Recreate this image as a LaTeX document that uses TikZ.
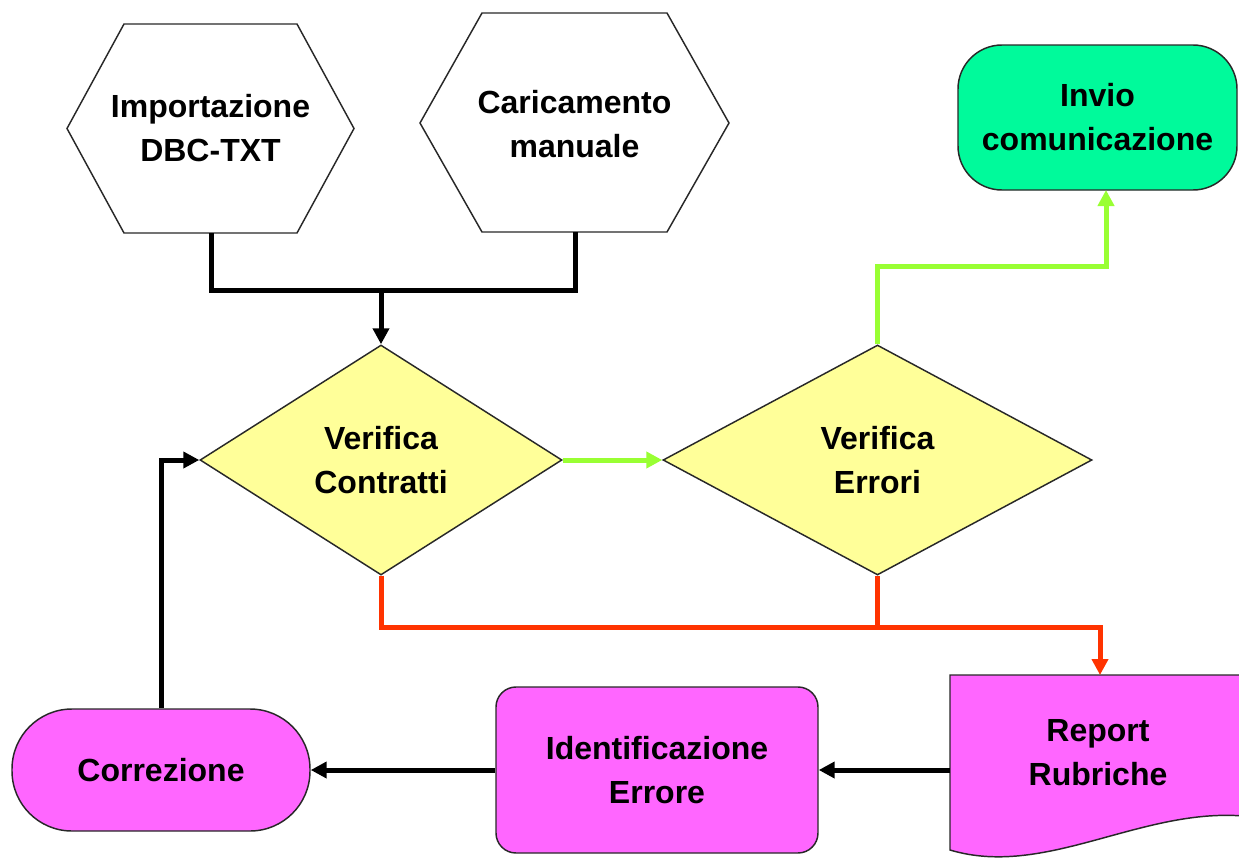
\documentclass[tikz,border=0pt]{standalone}
\usepackage{fontspec}
\setmainfont{Liberation Sans}
\usetikzlibrary{shapes.geometric,arrows.meta,calc}
\definecolor{magfill}{RGB}{255,102,255}
\definecolor{yelfill}{RGB}{255,255,153}
\definecolor{mintfill}{RGB}{0,250,155}
\definecolor{greenline}{RGB}{153,255,51}
\definecolor{redline}{RGB}{255,51,0}
\definecolor{outline}{RGB}{40,40,40}
\tikzset{
  shapeline/.style={draw=outline, line width=1.1pt},
  txt/.style={align=center, inner sep=0pt},
  decision/.style={diamond, shapeline, fill=yelfill, txt, minimum height=172.5pt},
  conn/.style={line width=3.75pt},
  arr/.style={conn, -{Triangle[length=12pt,width=12pt]}},
  blackconn/.style={conn, black},
  greenconn/.style={conn, greenline},
  redconn/.style={conn, redline},
}
\begin{document}
\begin{tikzpicture}[x=0.75pt, y=-0.75pt, font=\bfseries\fontsize{24}{33}\selectfont]
\useasboundingbox (0,0) rectangle (1239,857);
\clip (0,0) rectangle (1239,857);
\fill[white] (0,0) rectangle (1239,857);

% hexagons
\draw[shapeline, fill=white] (67,128.5) -- (124,24) -- (297,24) -- (354,128.5) -- (297,233) -- (124,233) -- cycle;
\node[txt] (h1) at (210.5,128) {Importazione\\DBC-TXT};
\draw[shapeline, fill=white] (420,123) -- (482,13) -- (667,13) -- (729,123) -- (667,232) -- (482,232) -- cycle;
\node[txt] (h2) at (574.5,124) {Caricamento\\manuale};
\coordinate (h1out) at (211,233);
\coordinate (h2out) at (575,232);

% decisions
\node[decision, minimum width=271.5pt] (d1) at (381,460) {Verifica\\Contratti};
\node[decision, minimum width=321.75pt] (d2) at (877.5,460) {Verifica\\Errori};

% terminal
\node[shapeline, fill=mintfill, rounded corners=33pt, minimum width=209.25pt, minimum height=108.75pt, txt] (inv) at (1097.5,117.5) {Invio\\comunicazione};
\coordinate (invB) at (1106,190);

% document
\draw[shapeline, fill=magfill] (950,675) -- (1260,675) -- (1260,818) .. controls (1150,800) and (1050,880) .. (950,850) -- cycle;
\node[txt] (rep) at (1098,753) {Report\\Rubriche};
\coordinate (repT) at (1100,675);
\coordinate (repL) at (950,770);

% process
\node[shapeline, fill=magfill, rounded corners=15pt, minimum width=241.5pt, minimum height=124.5pt, txt] (ide) at (657,770) {Identificazione\\Errore};
\node[shapeline, fill=magfill, rounded corners=45pt, minimum width=223.5pt, minimum height=91.5pt, txt] (cor) at (161,770) {Correzione};

% connectors
\draw[blackconn] (h1out) -- ++(0,57) -| (h2out);
\coordinate (join) at (381,290);
\draw[blackconn, arr] (join) -- (d1.north);
\draw[greenconn, arr] (d1.east) -- (d2.west);
\draw[greenconn, arr] (d2.north) -- ++(0,-78) -| (invB);
\draw[redconn] (d1.south) -- ++(0,52) -| (d2.south);
\draw[redconn, arr] (d2.south) ++(0,52) -| (repT);
\draw[blackconn, arr] (repL) -- (ide.east);
\draw[blackconn, arr] (ide.west) -- (cor.east);
\draw[blackconn, arr] (cor.north) |- (d1.west);
\end{tikzpicture}
\end{document}
